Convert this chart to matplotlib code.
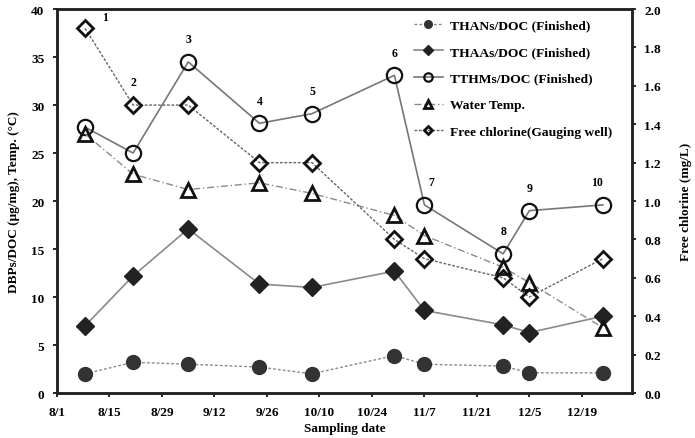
import matplotlib
matplotlib.use("Agg")
import matplotlib.pyplot as plt
import numpy as np

# Days since 8/1
sample_day = [7.5, 20.3, 35, 54, 68, 90, 98, 119, 126, 145.6]
sample_no = ["1", "2", "3", "4", "5", "6", "7", "8", "9", "10"]
thans = [2.0, 3.2, 3.0, 2.7, 2.0, 3.9, 3.0, 2.8, 2.1, 2.1]
thaas = [7.0, 12.2, 17.1, 11.35, 11.0, 12.7, 8.6, 7.1, 6.3, 8.0]
tthms = [27.7, 25.0, 34.5, 28.1, 29.1, 33.1, 19.6, 14.5, 19.0, 19.6]
water_temp = [27.0, 22.8, 21.2, 21.9, 20.8, 18.5, 16.4, 13.1, 11.5, 6.8]
free_cl = [1.90, 1.50, 1.50, 1.20, 1.20, 0.80, 0.70, 0.60, 0.50, 0.70]

xtick_days = [0, 14, 28, 42, 56, 70, 84, 98, 112, 126, 140]
xtick_labels = ["8/1", "8/15", "8/29", "9/12", "9/26", "10/10", "10/24",
                "11/7", "11/21", "12/5", "12/19"]

plt.rcParams['font.family'] = ['Liberation Serif', 'DejaVu Serif']
plt.rcParams['font.weight'] = 'bold'
plt.rcParams['mathtext.default'] = 'regular'

fig = plt.figure(figsize=(6.95, 4.39), dpi=100)
ax = fig.add_axes([0.082, 0.1025, 0.827, 0.8745])
ax2 = ax.twinx()

gray = '#8a8a8a'
k = '#111111'
h1, = ax.plot(sample_day, thans, linestyle=(0, (2, 1.5)), color=gray, lw=1.0,
              marker='o', ms=10, mfc='#333333', mec='#333333', label='THANs/DOC (Finished)')
h2, = ax.plot(sample_day, thaas, linestyle='-', color=gray, lw=1.2,
              marker='D', ms=9, mfc='#222222', mec='#222222', label='THAAs/DOC (Finished)')
h3, = ax.plot(sample_day, tthms, linestyle='-', color='#777777', lw=1.2,
              marker='o', ms=11, mfc='none', mec=k, mew=1.6, label='TTHMs/DOC (Finished)')
h4, = ax.plot(sample_day, water_temp, linestyle=(0, (5, 2, 1, 2)), color=gray, lw=1.0,
              marker='^', ms=10, mfc='none', mec=k, mew=2.0, label='Water Temp.')
h5, = ax2.plot(sample_day, free_cl, linestyle=(0, (2, 1.2)), color='#666666', lw=1.0,
               marker='D', ms=8, mfc='none', mec=k, mew=2.0, label='Free chlorine(Gauging well)')

ax.set_xlim(0, 153.3)
ax.set_ylim(0, 40)
ax2.set_ylim(0, 2.0)
ax.set_xticks(xtick_days)
ax.set_xticklabels(xtick_labels)
ax.set_yticks(np.arange(0, 41, 5))
ax2.set_yticks(np.arange(0, 2.01, 0.2))
ax2.set_yticklabels([f"{v:.1f}" for v in np.arange(0, 2.01, 0.2)])

for a in (ax, ax2):
    a.tick_params(direction='out', length=3, width=1.2, labelsize=9.5, pad=6)
    for s in a.spines.values():
        s.set_linewidth(1.8)
        s.set_color('#222222')

ax.set_xlabel('Sampling date', fontsize=9.5, fontweight='bold', labelpad=3)
ax.set_ylabel('DBPs/DOC (μg/mg), Temp. (°C)', fontsize=9.5, fontweight='bold', labelpad=8)
ax2.set_ylabel('Free chlorine (mg/L)', fontsize=9.5, fontweight='bold', labelpad=14)

# sample number labels
offsets = [(14, 4), (0, 12), (0, 12), (0, 12), (0, 12), (0, 12), (5, 12), (0, 12), (0, 12), (-4, 12)]
for i, lab in enumerate(sample_no):
    top = max(tthms[i], free_cl[i] * 20)
    ax.annotate(lab, (sample_day[i], top), xytext=offsets[i], textcoords='offset points',
                ha='center', va='bottom', fontsize=8.5, fontweight='bold')

leg = ax.legend(handles=[h1, h2, h3, h4, h5], loc='upper right', frameon=False,
                fontsize=9.7, handlelength=2.2, markerscale=0.55, labelspacing=1.05,
                handletextpad=0.5, bbox_to_anchor=(0.98, 0.995), borderaxespad=0.2)

fig.savefig('out.png', dpi=100)
